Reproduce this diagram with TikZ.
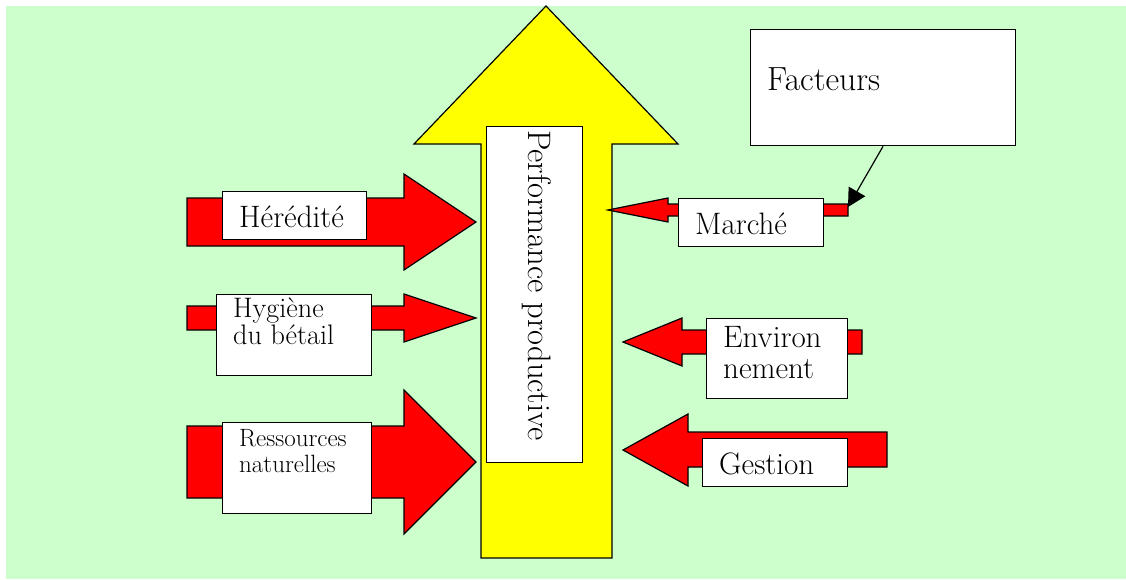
\documentclass[tikz,border=0pt]{standalone}
\usetikzlibrary{arrows.meta}
\definecolor{bggreen}{HTML}{CCFFCC}
\definecolor{redarrow}{HTML}{FF0000}
\definecolor{yelarrow}{HTML}{FFFF00}
\tikzset{
  outline/.style={draw=black, line width=1.2pt, line join=miter},
  redblock/.style={outline, fill=redarrow},
  yelblock/.style={outline, fill=yelarrow},
  wbox/.style={draw=black, line width=1.2pt, fill=white, rectangle, inner sep=0pt, anchor=north west},
  lbl/.style={anchor=base west, inner sep=0pt, align=left, text=black},
  mainfont/.style={font=\fontsize{31}{31}\selectfont},
}
\begin{document}
\begin{tikzpicture}[x=1pt, y=-1pt]
\useasboundingbox (0,0) rectangle (1126,579);
\fill[bggreen] (6,6) rectangle (1126,579);
% big yellow arrow
\draw[yelblock] (546,6) -- (678,144) -- (612,144) -- (612,558) -- (481,558) -- (481,144) -- (414,144) -- cycle;
\node[wbox, minimum width=96pt, minimum height=336pt] (perf) at (486,126) {};
\node[rotate=-90, anchor=base west, inner sep=0pt, font=\fontsize{32.5}{33}\selectfont] (perftxt) at (528,130) {Performance productive};
% left red arrows
\draw[redblock] (187,198) -- (404,198) -- (404,174) -- (476,222) -- (404,270) -- (404,246) -- (187,246) -- cycle;
\draw[redblock] (187,306) -- (404,306) -- (404,294) -- (476,318) -- (404,342) -- (404,330) -- (187,330) -- cycle;
\draw[redblock] (187,426) -- (404,426) -- (404,390) -- (476,462) -- (404,534) -- (404,498) -- (187,498) -- cycle;
% right red arrows
\draw[redblock] (608,210) -- (668,198) -- (668,204) -- (848,204) -- (848,216) -- (668,216) -- (668,222) -- cycle;
\draw[redblock] (623,342) -- (682,318) -- (682,330) -- (862,330) -- (862,354) -- (682,354) -- (682,366) -- cycle;
\draw[redblock] (623,450) -- (688,414) -- (688,432) -- (887,432) -- (887,467) -- (688,467) -- (688,486) -- cycle;
% boxes
\node[wbox, minimum width=144pt, minimum height=48pt] (hered) at (222,191) {};
\node[wbox, minimum width=155pt, minimum height=81pt] (hyg) at (216,294) {};
\node[wbox, minimum width=149pt, minimum height=91pt] (ress) at (222,422) {};
\node[wbox, minimum width=145pt, minimum height=48pt] (march) at (678,198) {};
\node[wbox, minimum width=141pt, minimum height=80pt] (envir) at (706,318) {};
\node[wbox, minimum width=145pt, minimum height=48pt] (gest) at (702,438) {};
\node[wbox, minimum width=265pt, minimum height=116pt] (fact) at (750,29) {};
% texts (multi-line: base anchor is on the last line)
\node[lbl, mainfont] (heredtxt) at (239,227) {Hérédité};
\node[lbl, font=\fontsize{28.2}{27}\selectfont] (hygtxt) at (233,344) {Hygiène\\du bétail};
\node[lbl, font=\fontsize{25}{26}\selectfont] (resstxt) at (239,472) {Ressources\\naturelles};
\node[lbl, mainfont] (marchtxt) at (695,234) {Marché};
\node[lbl, mainfont] (envirtxt) at (723,378) {Environ\\nement};
\node[lbl, mainfont] (gesttxt) at (719,474) {Gestion};
\node[lbl, font=\fontsize{33.5}{33}\selectfont] (facttxt) at (767,90) {Facteurs};
% connector
\coordinate (ftip) at (848,207);
\draw[line width=1.2pt, -{Triangle[length=18pt, width=19pt]}] (fact.south) -- (ftip);
\end{tikzpicture}
\end{document}
